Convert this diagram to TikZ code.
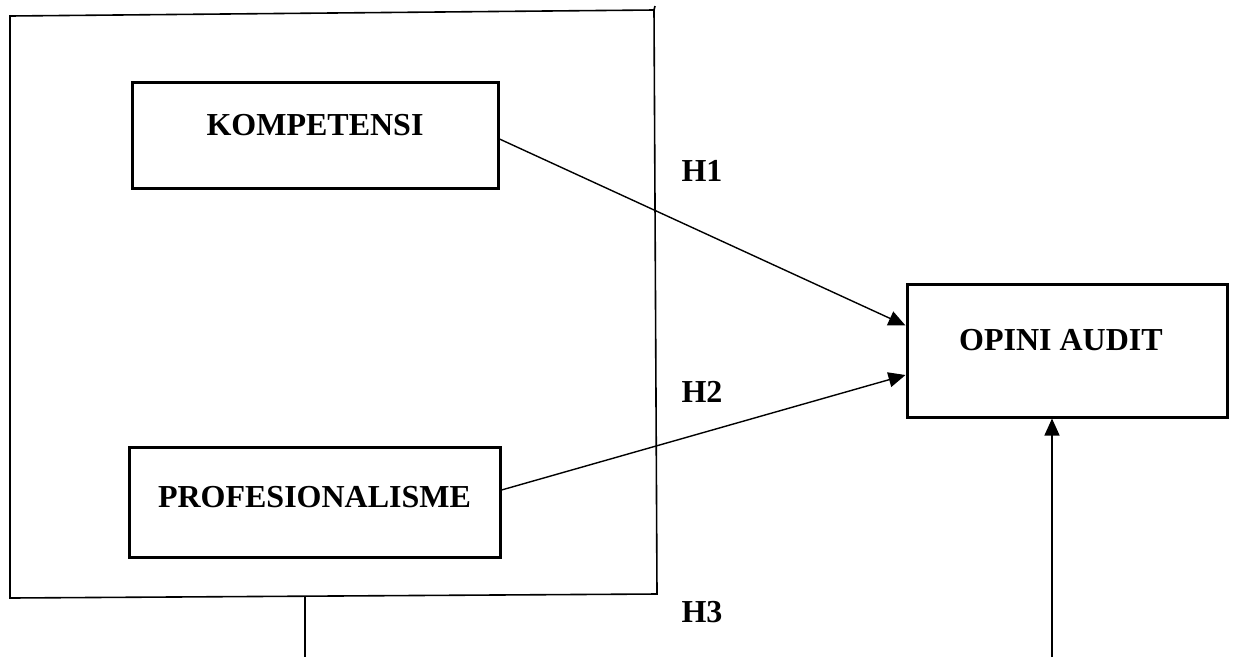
\documentclass[tikz,border=0pt]{standalone}
\usepackage{fontspec}
\setmainfont{Liberation Serif}
\usetikzlibrary{arrows.meta,calc}
\tikzset{
  varbox/.style={draw=black, line width=3pt, rectangle, inner sep=0pt,
    font=\fontsize{32}{38}\selectfont\bfseries, text height=20pt, text depth=20pt},
  hlabel/.style={font=\fontsize{32}{38}\selectfont\bfseries, inner sep=0pt, anchor=base},
  conn/.style={draw=black, line width=1.4pt, -{Triangle[length=17pt,width=15pt]}},
  frame/.style={draw=black, line width=1.6pt},
}
\begin{document}
\begin{tikzpicture}[x=1pt,y=-1pt]
\useasboundingbox (0,0) rectangle (1233,657);
% big frame
\coordinate (tl) at (10,16);
\coordinate (tr) at (654,10);
\coordinate (br) at (657,594);
\coordinate (bl) at (10,598);
\draw[frame] (tl) -- (tr) -- (br) -- (bl) -- cycle;
\draw[frame] (tr) -- ++(1,-4);
% boxes
\node[varbox, minimum width=366pt, minimum height=106pt] (k) at (315,135) {KOMPETENSI};
\node[varbox, minimum width=371pt, minimum height=110pt, text depth=15pt, text height=25pt] (p) at (314.5,502) {PROFESIONALISME};
\node[varbox, minimum width=320pt, minimum height=133pt] (o) at (1067,350.5) {\hspace*{-12pt}OPINI AUDIT};
% labels
\node[hlabel] (h1) at (702,181) {H1};
\node[hlabel] (h2) at (702,402) {H2};
\node[hlabel] (h3) at (702,622) {H3};
% connectors
\draw[conn] ([yshift=-4pt]k.east) -- ([yshift=25pt]o.west);
\draw[conn] ([yshift=12pt]p.east) -- ([yshift=-24.5pt]o.west);
\coordinate (b3) at (1052,657);
\draw[conn] (b3) -- (b3 |- o.south);
\coordinate (fb) at (305,596);
\coordinate (fe) at (305,657);
\draw[line width=1.3pt] (fb) -- (fe);
\end{tikzpicture}
\end{document}
